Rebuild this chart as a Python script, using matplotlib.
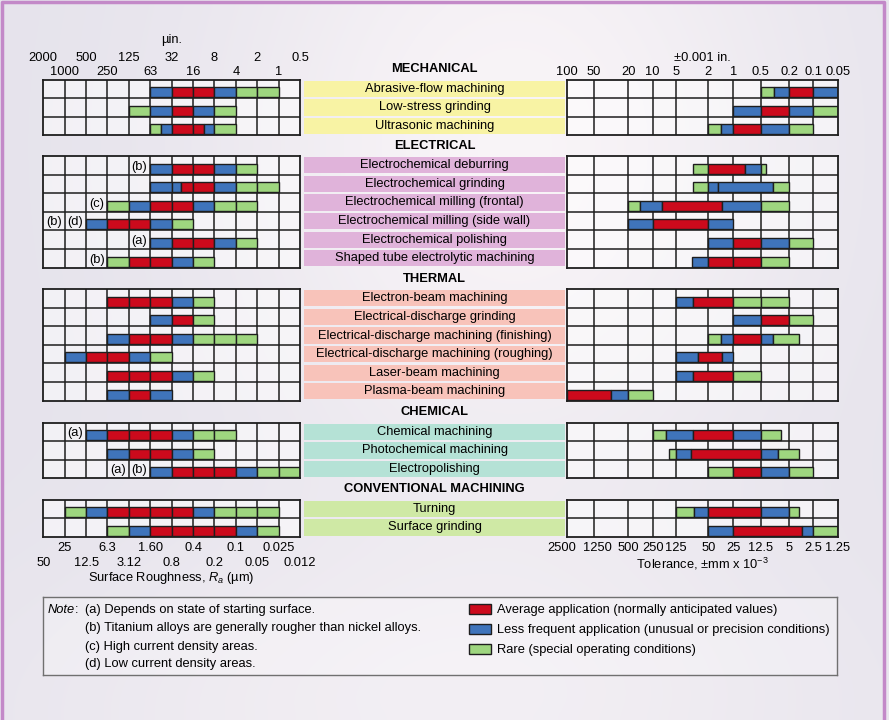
import numpy as np
import matplotlib.pyplot as plt
from matplotlib.patches import Patch
from matplotlib.transforms import ScaledTranslation

plt.rcParams['font.family'] = ['Liberation Sans', 'DejaVu Sans']
plt.rcParams['mathtext.fontset'] = 'custom'
plt.rcParams['mathtext.rm'] = 'Liberation Sans'
plt.rcParams['mathtext.it'] = 'Liberation Sans:italic'

# ---------------- data ----------------
A, L, R = 'avg', 'less', 'rare'

ROUGH_TOP_1 = ["2000", "500", "125", "32", "8", "2", "0.5"]      # even columns
ROUGH_TOP_2 = ["1000", "250", "63", "16", "4", "1"]              # odd columns
ROUGH_BOT_1 = ["25", "6.3", "1.60", "0.4", "0.1", "0.025"]        # odd columns
ROUGH_BOT_2 = ["50", "12.5", "3.12", "0.8", "0.2", "0.05", "0.012"]  # even columns
TOL_TOP = ["100", "50", "20", "10", "5", "2", "1", "0.5", "0.2", "0.1", "0.05"]
TOL_BOT = ["2500", "1250", "500", "250", "125", "50", "25", "12.5", "5", "2.5", "1.25"]

MECH_NAMES = ["Abrasive-flow machining", "Low-stress grinding", "Ultrasonic machining"]
MECH_ROUGH = [
    [(5, 6, L), (6, 8, A), (8, 9, L), (9, 11, R)],
    [(4, 5, R), (5, 6, L), (6, 7, A), (7, 8, L), (8, 9, R)],
    [(5, 5.5, R), (5.5, 6, L), (6, 7.5, A), (7.5, 8, L), (8, 9, R)],
]
MECH_TOL = [
    [(7, 7.48, R), (7.48, 8, L), (8, 9, A), (9, 10, L)],
    [(6, 7, L), (7, 8, A), (8, 9, L), (9, 10, R)],
    [(5, 5.5, R), (5.5, 6, L), (6, 7, A), (7, 8, L), (8, 9, R)],
]
MECH_NOTES = []

ELEC_NAMES = ["Electrochemical deburring", "Electrochemical grinding",
              "Electrochemical milling (frontal)", "Electrochemical milling (side wall)",
              "Electrochemical polishing", "Shaped tube electrolytic machining"]
ELEC_ROUGH = [
    [(5, 6, L), (6, 8, A), (8, 9, L), (9, 10, R)],
    [(5, 6.45, L), (6.45, 8, A), (8, 9, L), (9, 11, R)],
    [(3, 4, R), (4, 5, L), (5, 7, A), (7, 8, L), (8, 10, R)],
    [(2, 3, L), (3, 5, A), (5, 6, L), (6, 7, R)],
    [(5, 6, L), (6, 8, A), (8, 9, L), (9, 10, R)],
    [(3, 4, R), (4, 6, A), (6, 7, L), (7, 8, R)],
]
ELEC_TOL = [
    [(4.54, 5, R), (5, 6.43, A), (6.43, 7, L), (7, 7.19, R)],
    [(4.54, 5, R), (5, 5.4, L), (5.4, 7.44, L), (7.44, 8, R)],
    [(2, 2.48, R), (2.48, 3.39, L), (3.39, 5.53, A), (5.53, 7, L), (7, 8, R)],
    [(2, 3, L), (3, 5, A), (5, 6, L)],
    [(5, 6, L), (6, 7, A), (7, 8, L), (8, 9, R)],
    [(4.48, 5, L), (5, 6, A), (6, 7, A), (7, 8, R)],
]
ELEC_NOTES = [(0, 4, "(b)"), (2, 2, "(c)"), (3, 0, "(b)"), (3, 1, "(d)"),
              (4, 4, "(a)"), (5, 2, "(b)")]

THERM_NAMES = ["Electron-beam machining", "Electrical-discharge grinding",
               "Electrical-discharge machining (finishing)",
               "Electrical-discharge machining (roughing)",
               "Laser-beam machining", "Plasma-beam machining"]
THERM_ROUGH = [
    [(3, 6, A), (6, 7, L), (7, 8, R)],
    [(5, 6, L), (6, 7, A), (7, 8, R)],
    [(3, 4, L), (4, 6, A), (6, 7, L), (7, 10, R)],
    [(1, 2, L), (2, 4, A), (4, 5, L), (5, 6, R)],
    [(3, 6, A), (6, 7, L), (7, 8, R)],
    [(3, 4, L), (4, 5, A), (5, 6, L)],
]
THERM_TOL = [
    [(4, 4.52, L), (4.52, 6, A), (6, 7, R), (7, 8, R)],
    [(6, 7, L), (7, 8, A), (8, 9, R)],
    [(5, 5.5, R), (5.5, 6, L), (6, 7, A), (7, 7.44, L), (7.44, 8.4, R)],
    [(4, 4.69, L), (4.69, 5.53, A), (5.53, 6, L)],
    [(4, 4.52, L), (4.52, 6, A), (6, 7, R)],
    [(0, 1.5, A), (1.5, 2, L), (2, 3, R)],
]
THERM_NOTES = []

CHEM_NAMES = ["Chemical machining", "Photochemical machining", "Electropolishing"]
CHEM_ROUGH = [
    [(2, 3, L), (3, 6, A), (6, 7, L), (7, 9, R)],
    [(3, 4, L), (4, 6, A), (6, 7, L), (7, 8, R)],
    [(5, 6, L), (6, 9, A), (9, 10, L), (10, 12, R)],
]
CHEM_TOL = [
    [(3, 3.57, R), (3.57, 4.52, L), (4.52, 6, A), (6, 7, L), (7, 7.71, R)],
    [(3.7, 4, R), (4, 4.46, L), (4.46, 7, A), (7, 7.62, L), (7.62, 8.4, R)],
    [(5, 6, R), (6, 7, A), (7, 8, L), (8, 9, R)],
]
CHEM_NOTES = [(0, 1, "(a)"), (2, 3, "(a)"), (2, 4, "(b)")]

CONV_NAMES = ["Turning", "Surface grinding"]
CONV_ROUGH = [
    [(1, 2, R), (2, 3, L), (3, 7, A), (7, 8, L), (8, 11, R)],
    [(3, 4, R), (4, 5, L), (5, 9, A), (9, 10, L), (10, 11, R)],
]
CONV_TOL = [
    [(4, 4.57, R), (4.57, 5, L), (5, 7, A), (7, 8, L), (8, 8.42, R)],
    [(5, 6, L), (6, 8.54, A), (8.54, 9, L), (9, 10, R)],
]
CONV_NOTES = []

SECTIONS = [
    ("MECHANICAL", MECH_NAMES, MECH_ROUGH, MECH_TOL, MECH_NOTES, '#f8f3a4'),
    ("ELECTRICAL", ELEC_NAMES, ELEC_ROUGH, ELEC_TOL, ELEC_NOTES, '#e0b3da'),
    ("THERMAL", THERM_NAMES, THERM_ROUGH, THERM_TOL, THERM_NOTES, '#f8c3ba'),
    ("CHEMICAL", CHEM_NAMES, CHEM_ROUGH, CHEM_TOL, CHEM_NOTES, '#b5e2d6'),
    ("CONVENTIONAL MACHINING", CONV_NAMES, CONV_ROUGH, CONV_TOL, CONV_NOTES, '#cfe9a5'),
]

NOTE_LINES = ["(a) Depends on state of starting surface.",
              "(b) Titanium alloys are generally rougher than nickel alloys.",
              "(c) High current density areas.",
              "(d) Low current density areas."]
LEGEND_LABELS = {A: "Average application (normally anticipated values)",
                 L: "Less frequent application (unusual or precision conditions)",
                 R: "Rare (special operating conditions)"}

# ---------------- style / layout ----------------
COLORS = {A: '#cc0a1c', L: '#3f74bb', R: '#9ed67f'}
EDGE = '#1e1e1e'
FS = 9.3
W, H = 889, 720
SECTION_TOPS = [79.5, 156, 289, 422.5, 499.5]
ROW_H = 18.6
LEFT_X = (43.3, 300)
MID_X = (304, 565)
RIGHT_X = (567.3, 837.7)
RIGHT_W = [26.7, 34.3, 24.4, 23.3, 32.3, 25, 27.4, 28.6, 24, 24.4]
R_EDGES = np.concatenate([[0], np.cumsum(RIGHT_W)])
R_IDX = np.arange(len(R_EDGES))


def r_fwd(x):
    x = np.asarray(x, float)
    return np.interp(x, R_IDX, R_EDGES) + np.where(x > 10, (x - 10) * 24.4, 0) + np.where(x < 0, x * 26.7, 0)


def r_inv(p):
    p = np.asarray(p, float)
    return np.interp(p, R_EDGES, R_IDX) + np.where(p > R_EDGES[-1], (p - R_EDGES[-1]) / 24.4, 0) + np.where(p < 0, p / 26.7, 0)


def frect(x0, y0, x1, y1):
    return [x0 / W, 1 - y1 / H, (x1 - x0) / W, (y1 - y0) / H]


fig = plt.figure(figsize=(W / 100, H / 100), dpi=100)

# background
bg = fig.add_axes([0, 0, 1, 1])
bg.axis('off')
yy, xx = np.mgrid[0:1:80j, 0:1:100j]
base = np.array([0.90, 0.89, 0.925])
light = np.array([0.975, 0.958, 0.97])
wgt = np.exp(-(((xx - 0.58) / 0.33) ** 2 + ((yy - 0.2) / 0.5) ** 2))
wgt2 = np.exp(-(((xx - 0.5) / 0.5) ** 2 + ((yy - 1.0) / 0.25) ** 2)) * 0.6
img = base + (light - base) * np.clip(wgt + wgt2, 0, 1)[..., None]
bg.imshow(img, extent=[0, 1, 0, 1], aspect='auto', origin='upper', interpolation='bicubic')
bg.set_xlim(0, 1)
bg.set_ylim(0, 1)
bg.plot([0.002, 0.002, 0.994, 0.994], [0, 0.997, 0.997, 0], color='#c389c8', lw=2.5)


def draw_grid(ax, rows, ncols, split):
    n = len(rows)
    ax.set_xlim(0, ncols)
    ax.set_ylim(0, n)
    ax.set_facecolor((1, 1, 1, 0.5))
    ax.vlines(range(1, ncols), 0, n, color=EDGE, lw=1.1, zorder=1.5)
    ax.hlines(range(1, n), 0, ncols, color=EDGE, lw=1.1, zorder=1.5)
    for sp in ax.spines.values():
        sp.set_linewidth(1.3)
        sp.set_color(EDGE)
    for i, segs in enumerate(rows):
        y = n - 1 - i
        for a, b, k in segs:
            if split:
                cuts = [a] + list(range(int(np.floor(a)) + 1, int(np.ceil(b)))) + [b]
            else:
                cuts = [a, b]
            for p, q in zip(cuts[:-1], cuts[1:]):
                ax.barh(y + 0.32, q - p, left=p, height=0.54, color=COLORS[k],
                        edgecolor=EDGE, linewidth=1.0, zorder=2)
    ax.set_xticks([])
    ax.set_yticks([])


nsec = len(SECTIONS)
for s, (title, names, rough, tol, notes, lab_color) in enumerate(SECTIONS):
    n = len(names)
    top = SECTION_TOPS[s]
    bot = top + n * ROW_H

    axl = fig.add_axes(frect(LEFT_X[0], top, LEFT_X[1], bot))
    draw_grid(axl, rough, 12, True)
    for r, c, t in notes:
        axl.text(c + 0.5, n - 1 - r + 0.43, t, ha='center', va='center', fontsize=FS, zorder=3)

    axr = fig.add_axes(frect(RIGHT_X[0], top, RIGHT_X[1], bot))
    axr.set_xscale('function', functions=(r_fwd, r_inv))
    draw_grid(axr, tol, 10, False)

    axm = fig.add_axes(frect(MID_X[0], top, MID_X[1], bot))
    axm.axis('off')
    axm.set_xlim(0, 1)
    axm.set_ylim(0, n)
    yc = [n - 1 - i + 0.5 for i in range(n)]
    axm.barh(yc, 1, left=0, height=0.88, color=lab_color)
    for y, name in zip(yc, names):
        axm.text(0.5, y, name, ha='center', va='center', fontsize=FS)
    axm.text(0.5, n + 0.56, title, ha='center', va='center', fontsize=FS,
             fontweight='bold', clip_on=False)

    if s == 0:
        axl.xaxis.set_ticks_position('top')
        axl.set_xticks(range(0, 13, 2), labels=ROUGH_TOP_1)
        axl.set_xticks(range(1, 13, 2), labels=ROUGH_TOP_2, minor=True)
        axl.tick_params(axis='x', which='both', length=0, labelsize=FS,
                        top=True, bottom=False, labeltop=True, labelbottom=False)
        axl.tick_params(axis='x', which='major', pad=11.5)
        axl.tick_params(axis='x', which='minor', pad=1.2)
        axl.xaxis.set_label_position('top')
        axl.set_xlabel('\u00b5in.', fontsize=FS, labelpad=6.5)

        axr.xaxis.set_ticks_position('top')
        axr.set_xticks(range(11), labels=TOL_TOP)
        axr.tick_params(axis='x', length=0, labelsize=FS, pad=1.2,
                        top=True, bottom=False, labeltop=True, labelbottom=False)
        axr.xaxis.set_label_position('top')
        axr.set_xlabel('\u00b10.001 in.', fontsize=FS, labelpad=3.5)

    if s == nsec - 1:
        axl.set_xticks(range(1, 13, 2), labels=ROUGH_BOT_1)
        axl.set_xticks(range(0, 13, 2), labels=ROUGH_BOT_2, minor=True)
        axl.tick_params(axis='x', which='both', length=0, labelsize=FS)
        axl.tick_params(axis='x', which='major', pad=3.6)
        axl.tick_params(axis='x', which='minor', pad=14.4)
        axl.set_xlabel('Surface Roughness, $R_a$ (\u00b5m)', fontsize=FS, labelpad=1.2)

        axr.set_xticks(range(11), labels=TOL_BOT)
        axr.tick_params(axis='x', length=0, labelsize=FS, pad=3.6)
        tl = axr.get_xticklabels()
        for lab, dx in ((tl[0], -6), (tl[1], 3)):
            lab.set_transform(lab.get_transform() + ScaledTranslation(dx / 100, 0, fig.dpi_scale_trans))
        axr.set_xlabel('Tolerance, \u00b1mm x 10$^{\\mathrm{-3}}$', fontsize=FS, labelpad=1.5)

# legend / notes box
LX0, LY0, LX1, LY1 = 43, 597.3, 837, 675
axn = fig.add_axes(frect(LX0, LY0, LX1, LY1))
axn.set_xlim(LX0, LX1)
axn.set_ylim(LY1, LY0)
axn.set_xticks([])
axn.set_yticks([])
axn.set_facecolor((1, 1, 1, 0.25))
for sp in axn.spines.values():
    sp.set_color('#707070')
    sp.set_linewidth(1.0)

note_y = [610, 628.3, 646.6, 663.5]
nt = axn.text(47.5, note_y[0], 'Note', style='italic', fontsize=FS, va='center')
axn.annotate(':', xy=(1, 0), xycoords=nt, va='bottom', ha='left', fontsize=FS)
for y, line in zip(note_y, NOTE_LINES):
    axn.text(84.7, y, line, fontsize=FS, va='center')

handles = [Patch(facecolor=COLORS[k], edgecolor=EDGE, linewidth=1.0, label=LEGEND_LABELS[k])
           for k in (A, L, R)]
axn.legend(handles=handles, loc='upper left',
           bbox_to_anchor=((468.7 - LX0) / (LX1 - LX0), 1 - (603.5 - LY0) / (LY1 - LY0)),
           frameon=False, fontsize=FS, handlelength=1.75, handleheight=0.85,
           handletextpad=0.42, labelspacing=0.58, borderpad=0, borderaxespad=0)

fig.savefig('out.png', dpi=100)
